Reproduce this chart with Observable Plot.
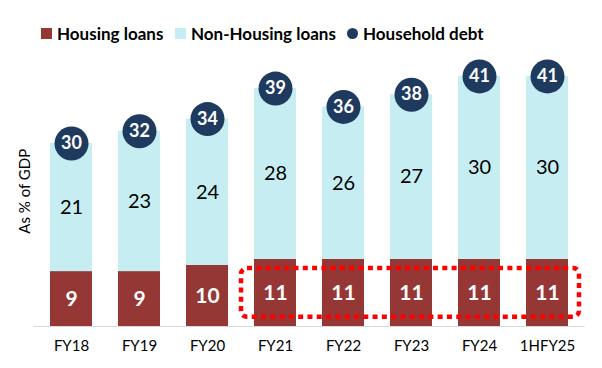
<!DOCTYPE html>
<html><head><meta charset="utf-8">
<script src="https://cdn.jsdelivr.net/npm/d3@7"></script>
<script src="https://cdn.jsdelivr.net/npm/@observablehq/plot@0.6"></script>
<style>
body{margin:0;background:#fff;font-family:Lato,"Open Sans",sans-serif;}
#legend{position:relative;width:602px;height:50px;}
.li{position:absolute;top:21px;height:24px;display:flex;align-items:center;font-weight:bold;font-size:17px;color:#000;white-space:nowrap;}
.sw{display:inline-block;margin-right:5px;}
</style></head><body>
<div id="legend"></div>
<div id="chart"></div>
<script>
const years = ["FY18","FY19","FY20","FY21","FY22","FY23","FY24","1HFY25"];
const housing = [9,9,10,11,11,11,11,11];
const nonHousing = [21,23,24,28,26,27,30,30];
const householdDebt = [30,32,34,39,36,38,41,41];
const seriesNames = ["Housing loans","Non-Housing loans","Household debt"];
const seriesColors = ["#953735","#c6eef2","#1f3a5f"];
const yLabel = "As % of GDP";
const highlighted = ["FY21","1HFY25"];

const rows = years.map((year,i)=>({year, housing: housing[i], nonHousing: nonHousing[i], total: householdDebt[i]}));

// legend
const legend = document.getElementById("legend");
const legendLeft = [41,175,347];
seriesNames.forEach((name,i)=>{
  const item = document.createElement("div");
  item.className = "li";
  item.style.left = legendLeft[i] + "px";
  const sw = document.createElement("span");
  sw.className = "sw";
  if (i < 2) { sw.style.width = "11px"; sw.style.height = "11px"; }
  else { sw.style.width = "11px"; sw.style.height = "11px"; sw.style.borderRadius = "50%"; }
  sw.style.background = seriesColors[i];
  item.appendChild(sw);
  item.appendChild(document.createTextNode(name));
  legend.appendChild(item);
});

const plot = Plot.plot({
  width: 602, height: 318,
  marginLeft: 33.6, marginRight: 17.3, marginTop: 1.5, marginBottom: 42,
  x: {domain: years, paddingInner: 0.376, paddingOuter: 0.188, axis: null},
  y: {domain: [0,45], axis: null},
  style: {fontFamily: "Lato, 'Open Sans', sans-serif", color: "#000", background: "#fff"},
  marks: [
    Plot.barY(rows, {x: "year", y1: 0, y2: "housing", fill: seriesColors[0]}),
    Plot.barY(rows, {x: "year", y1: "housing", y2: "total", fill: seriesColors[1]}),
    Plot.ruleY([0], {stroke: "#d9d9d9", strokeWidth: 1}),
    Plot.rect([{a: highlighted[0], b: highlighted[1]}], {x1: "a", x2: "b", y1: 1.5, y2: 9.5,
      insetLeft: -13, insetRight: -11, rx: 6, fill: "none", stroke: "#ff0000", strokeWidth: 4.5, strokeDasharray: "5 4.3"}),
    Plot.text(rows, {x: "year", y: d => d.housing/2, text: "housing", fill: "#fff", fontWeight: "bold", fontSize: 21}),
    Plot.text(rows, {x: "year", y: d => (d.housing + d.total)/2, text: "nonHousing", fill: "#000", fontSize: 20}),
    Plot.dot(rows, {x: "year", y: "total", r: 17, fill: seriesColors[2]}),
    Plot.text(rows, {x: "year", y: "total", text: "total", fill: "#fff", fontWeight: "bold", fontSize: 18}),
    Plot.axisX({tickSize: 0, tickPadding: 14, fontSize: 15, label: null}),
    Plot.text([yLabel], {frameAnchor: "left", dx: -9, dy: 2, rotate: -90, textAnchor: "middle", fontSize: 15})
  ]
});
document.getElementById("chart").appendChild(plot);
</script>
</body></html>
